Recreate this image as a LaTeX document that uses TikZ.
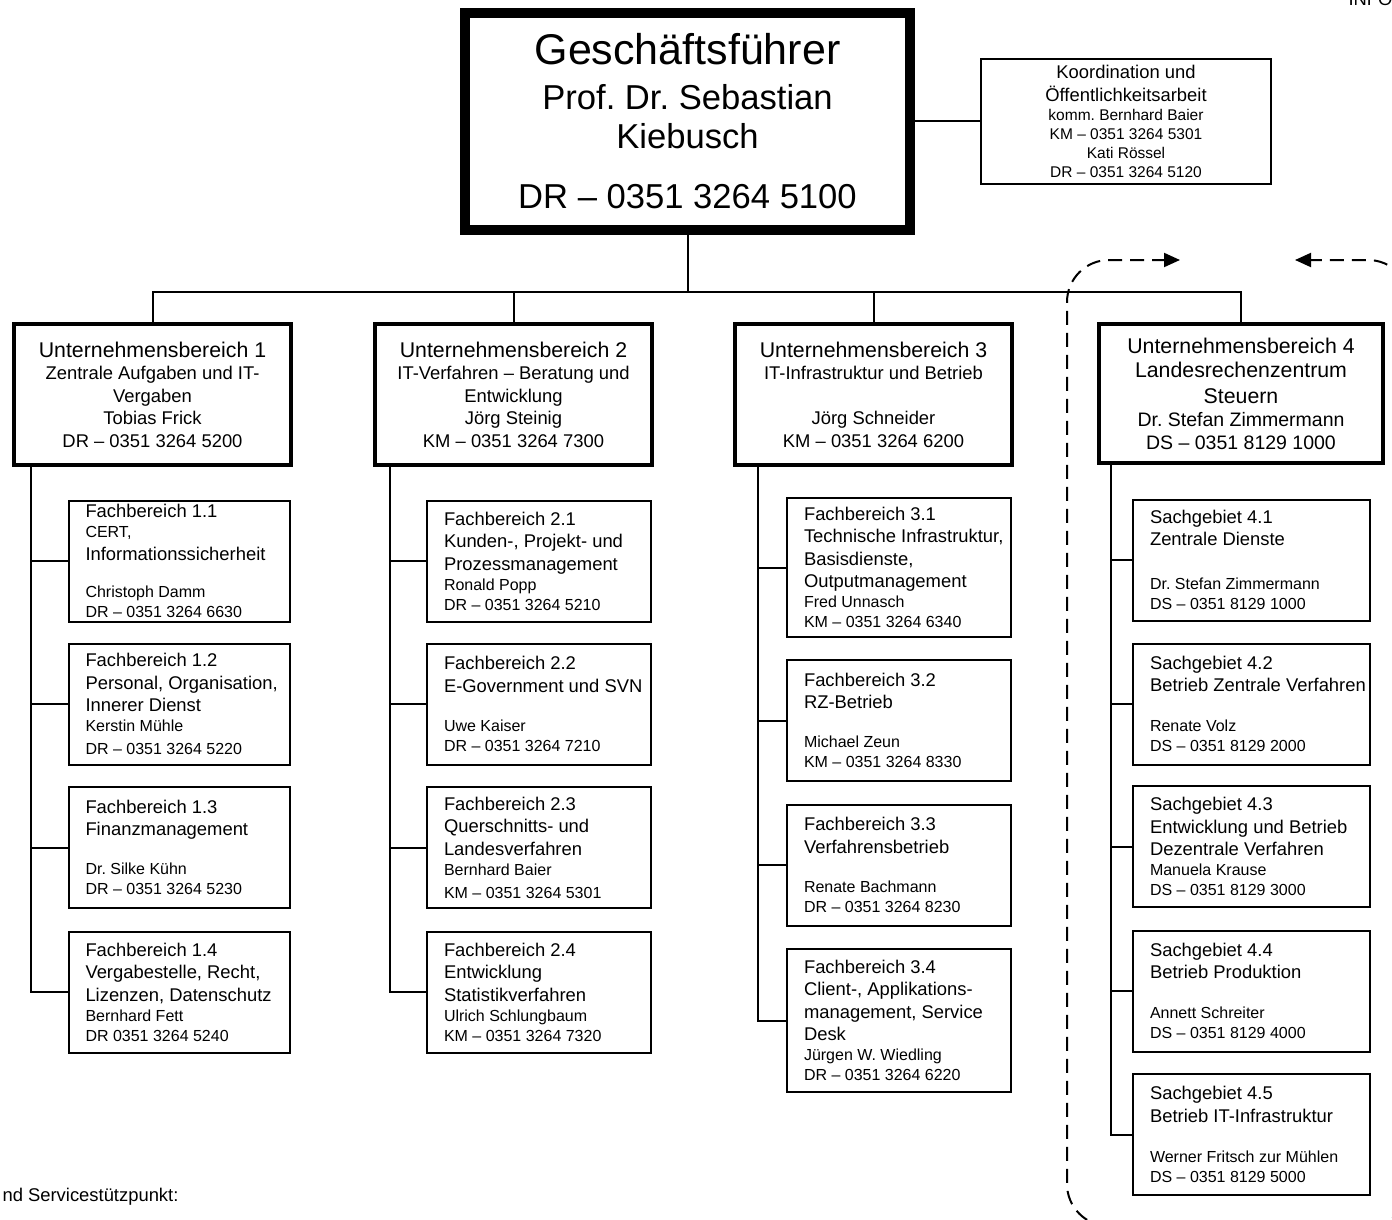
\documentclass[tikz,border=0pt]{standalone}
\usepackage{fontspec}
\setmainfont{Liberation Sans}
\usetikzlibrary{arrows.meta}
\frenchspacing
\newcommand{\szA}{\fontsize{43}{46}\selectfont}
\newcommand{\szB}{\fontsize{34.6}{39}\selectfont}
\newcommand{\szU}{\fontsize{21.3}{24}\selectfont}
\newcommand{\szN}{\fontsize{19.5}{23.5}\selectfont}
\newcommand{\szM}{\fontsize{18.4}{22.5}\selectfont}
\newcommand{\szS}{\fontsize{16}{20}\selectfont}
\newcommand{\szK}{\fontsize{15.5}{19}\selectfont}
\begin{document}
\begin{tikzpicture}[x=1pt,y=-1pt,
    link/.style={line width=2pt},
    ctext/.style={inner sep=0pt,align=center,
        execute at begin node={\spaceskip=0pt\xspaceskip=0pt\leftskip=0pt plus 1fil\rightskip=0pt plus 1fil\parfillskip=0pt},
        execute at end node={#1\endgraf}},
    gfbox/.style={ctext=\szB,draw,line width=10pt,text width=445,minimum height=217},
    kobox/.style={ctext=\szK,draw,line width=2pt,text width=290,minimum height=125,font=\szM},
    ubbox/.style={ctext=\szM,draw,line width=4pt,text width=277,minimum height=141,font=\szM},
    fbbox/.style={draw,line width=2pt,inner sep=0pt,text width=#1,minimum height=121,align=left,font=\szM,
        execute at begin node={\spaceskip=0pt\xspaceskip=0pt\leftskip=17pt},execute at end node={\szS\endgraf}},
    frame/.style={line width=2pt,dash pattern=on 14pt off 8pt,rounded corners=42,-{Triangle[length=16pt,width=14pt]}}]
    \useasboundingbox (0,0) rectangle (1392,1220);
    \draw[frame] (1240,1226) -- (1067,1226) -- (1067,260) -- (1180,260);
    \draw[frame] (1240,1226) -- (1410,1226) -- (1410,260) -- (1295,260);
    \node[gfbox] at (687.5,121.5) (GF) {\szA Geschäftsführer\\[6pt] \szB Prof. Dr. Sebastian\\ Kiebusch\\[21pt] DR – 0351 3264 5100};
    \node[kobox] at (1126,121.5) (KO) {Koordination und\\ Öffentlichkeitsarbeit\\ \szK komm. Bernhard Baier\\ KM – 0351 3264 5301\\ Kati Rössel\\ DR – 0351 3264 5120};
    \node[ubbox] at (152.5,394.5) (UB1) {\szU Unternehmensbereich 1\\ \szM Zentrale Aufgaben und IT-\\ Vergaben\\ Tobias Frick\\ DR – 0351 3264 5200};
    \node[ubbox] at (513.5,394.5) (UB2) {\szU Unternehmensbereich 2\\ \szM IT-Verfahren – Beratung und\\ Entwicklung\\ Jörg Steinig\\ KM – 0351 3264 7300};
    \node[ubbox] at (873.5,394.5) (UB3) {\szU Unternehmensbereich 3\\ \szM IT-Infrastruktur und Betrieb\\[22.5pt] Jörg Schneider\\ KM – 0351 3264 6200};
    \node[ubbox,ctext=\szN,text width=284,minimum height=139] at (1241,393.5) (UB4) {\szU Unternehmensbereich 4\\ Landesrechenzentrum\\[2pt] Steuern\\ \szN Dr. Stefan Zimmermann\\ DS – 0351 8129 1000};
    \node[fbbox=221] at (179,561) (FB11) {Fachbereich 1.1\\ \szS CERT,\\ \szM Informationssicherheit\\[17pt] \szS Christoph Damm\\ DR – 0351 3264 6630};
    \node[fbbox=221] at (179,704) (FB12) {Fachbereich 1.2\\ Personal, Organisation,\\ Innerer Dienst\\ \szS Kerstin Mühle\\[3pt] DR – 0351 3264 5220};
    \node[fbbox=221] at (179,847.5) (FB13) {Fachbereich 1.3\\ Finanzmanagement\\[19pt] \szS Dr. Silke Kühn\\ DR – 0351 3264 5230};
    \node[fbbox=221] at (179,992) (FB14) {Fachbereich 1.4\\ Vergabestelle, Recht,\\ Lizenzen, Datenschutz\\ \szS Bernhard Fett\\ DR 0351 3264 5240};
    \node[fbbox=224] at (539,561) (FB21) {Fachbereich 2.1\\ Kunden-, Projekt- und\\ Prozessmanagement\\ \szS Ronald Popp\\ DR – 0351 3264 5210};
    \node[fbbox=224] at (539,704) (FB22) {Fachbereich 2.2\\ E-Government und SVN\\[19pt] \szS Uwe Kaiser\\ DR – 0351 3264 7210};
    \node[fbbox=224] at (539,847.5) (FB23) {Fachbereich 2.3\\ Querschnitts- und\\ Landesverfahren\\ \szS Bernhard Baier\\[3pt] KM – 0351 3264 5301};
    \node[fbbox=224] at (539,992) (FB24) {Fachbereich 2.4\\ Entwicklung\\ Statistikverfahren\\ \szS Ulrich Schlungbaum\\ KM – 0351 3264 7320};
    \node[fbbox=224,minimum height=139] at (899,567.5) (FB31) {Fachbereich 3.1\\ Technische Infrastruktur,\\ Basisdienste,\\ Outputmanagement\\ \szS Fred Unnasch\\ KM – 0351 3264 6340};
    \node[fbbox=224] at (899,720.5) (FB32) {Fachbereich 3.2\\ RZ-Betrieb\\[19pt] \szS Michael Zeun\\ KM – 0351 3264 8330};
    \node[fbbox=224] at (899,865) (FB33) {Fachbereich 3.3\\ Verfahrensbetrieb\\[19pt] \szS Renate Bachmann\\ DR – 0351 3264 8230};
    \node[fbbox=224,minimum height=143] at (899,1020.5) (FB34) {Fachbereich 3.4\\ Client-, Applikations-\\ management, Service\\ Desk\\ \szS Jürgen W. Wiedling\\ DR – 0351 3264 6220};
    \node[fbbox=237] at (1251.5,560) (SG41) {Sachgebiet 4.1\\ Zentrale Dienste\\[24pt] \szS Dr. Stefan Zimmermann\\ DS – 0351 8129 1000};
    \node[fbbox=237] at (1251.5,704) (SG42) {Sachgebiet 4.2\\ Betrieb Zentrale Verfahren\\[20pt] \szS Renate Volz\\ DS – 0351 8129 2000};
    \node[fbbox=237] at (1251.5,846.5) (SG43) {Sachgebiet 4.3\\ Entwicklung und Betrieb\\ Dezentrale Verfahren\\ \szS Manuela Krause\\ DS – 0351 8129 3000};
    \node[fbbox=237] at (1251.5,991) (SG44) {Sachgebiet 4.4\\ Betrieb Produktion\\[20pt] \szS Annett Schreiter\\ DS – 0351 8129 4000};
    \node[fbbox=237] at (1251.5,1134.5) (SG45) {Sachgebiet 4.5\\ Betrieb IT-Infrastruktur\\[20pt] \szS Werner Fritsch zur Mühlen\\ DS – 0351 8129 5000};
    \node[font=\szM,anchor=base west] at (1345,6) (INFO) {INFO};
    \node[font=\szM,anchor=base west] at (-1,1201) (SVC) {nd Servicestützpunkt:};
    \coordinate (BUS) at (687.5,292);
    \draw[link] (GF.south) -- (BUS);
    \foreach \u in {UB1,UB2,UB3,UB4}
        \draw[link] (BUS) -| (\u.north);
    \draw[link] (GF.east) -- (KO.west);
    \foreach \c in {FB11,FB12,FB13,FB14}
        \draw[link] ([xshift=19]UB1.south west) |- (\c.west);
    \foreach \c in {FB21,FB22,FB23,FB24}
        \draw[link] ([xshift=17]UB2.south west) |- (\c.west);
    \foreach \c in {FB31,FB32,FB33,FB34}
        \draw[link] ([xshift=25]UB3.south west) |- (\c.west);
    \foreach \c in {SG41,SG42,SG43,SG44,SG45}
        \draw[link] ([xshift=14]UB4.south west) |- (\c.west);
\end{tikzpicture}
\end{document}
